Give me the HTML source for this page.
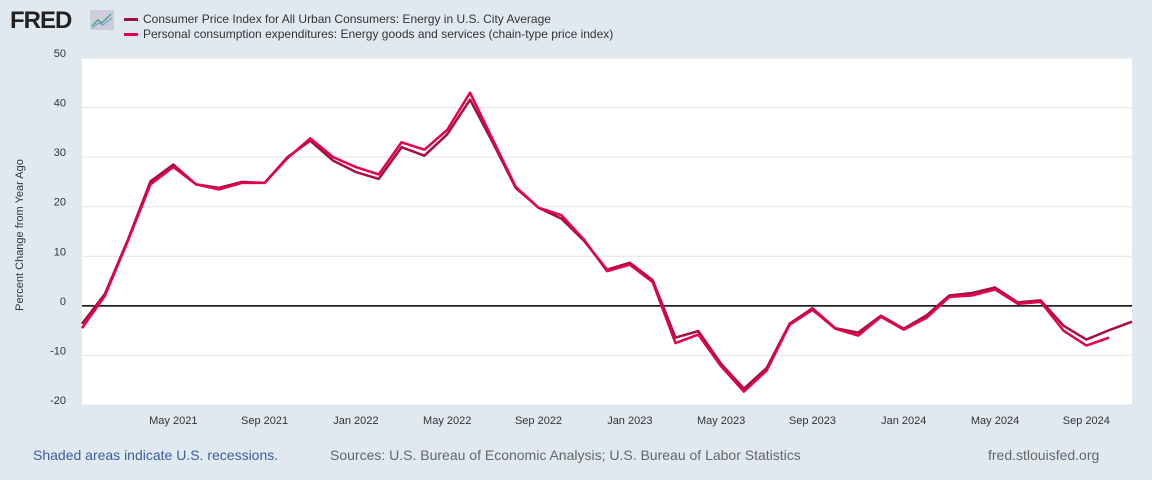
<!DOCTYPE html>
<html><head><meta charset="utf-8"><style>
body{margin:0;width:1152px;height:480px;background:#e1e9f0;font-family:"Liberation Sans",sans-serif;overflow:hidden;position:relative}
.t{position:absolute;white-space:nowrap}
</style></head><body>
<div class="t" style="left:10px;top:7px;font-size:24px;font-weight:bold;letter-spacing:-1px;color:#222">FRED</div>
<svg style="position:absolute;left:90px;top:10px" width="24" height="20"><rect width="24" height="20" fill="#ccd" /><polyline points="2,16 8,10 12,13 21,4" stroke="#4a7" fill="none" stroke-width="1.5"/><polyline points="2,18 9,13 13,15 22,8" stroke="#69c" fill="none" stroke-width="1"/></svg>
<div class="t" style="left:124px;top:12px;font-size:12px;color:#333"><span style="display:inline-block;width:14px;height:3px;background:#a50f3f;vertical-align:middle;margin-right:5px"></span>Consumer Price Index for All Urban Consumers: Energy in U.S. City Average</div>
<div class="t" style="left:124px;top:27px;font-size:12px;color:#333"><span style="display:inline-block;width:14px;height:3px;background:#e4004f;vertical-align:middle;margin-right:5px"></span>Personal consumption expenditures: Energy goods and services (chain-type price index)</div>
<div class="t" style="left:20px;top:235px;font-size:11px;color:#333;transform:translate(-50%,-50%) rotate(-90deg)">Percent Change from Year Ago</div>
<svg id="c" style="position:absolute;left:0;top:0" width="1152" height="480"></svg>
<div class="t" style="left:33px;top:447px;font-size:14px;color:#3a5fa0">Shaded areas indicate U.S. recessions.</div>
<div class="t" style="left:330px;top:447px;font-size:14px;color:#666">Sources: U.S. Bureau of Economic Analysis; U.S. Bureau of Labor Statistics</div>
<div class="t" style="left:988px;top:447px;font-size:14px;color:#666">fred.stlouisfed.org</div>
<script>
const yTicks=[50,40,30,20,10,0,-10,-20];
const xLabels=["May 2021","Sep 2021","Jan 2022","May 2022","Sep 2022","Jan 2023","May 2023","Sep 2023","Jan 2024","May 2024","Sep 2024"];
const xLabelIdx=[4,8,12,16,20,24,28,32,36,40,44];
const cpi=[-3.6,2.4,13.2,25.1,28.5,24.5,23.8,25.0,24.8,30.0,33.3,29.3,27.0,25.6,32.0,30.3,34.6,41.6,32.9,23.8,19.8,17.6,13.1,7.3,8.7,5.2,-6.4,-5.1,-11.7,-16.7,-12.5,-3.6,-0.5,-4.5,-5.4,-2.0,-4.6,-1.9,2.1,2.6,3.7,0.7,1.1,-4.0,-6.8,-4.9,-3.2];
const pce=[-4.5,2.0,13.0,24.5,28.0,24.5,23.5,24.8,24.8,29.8,33.8,30.0,28.0,26.5,33.0,31.5,35.5,43.0,33.5,24.0,19.8,18.3,13.3,7.0,8.3,4.8,-7.5,-5.8,-12.2,-17.3,-13.0,-3.8,-0.8,-4.6,-6.0,-2.2,-4.8,-2.4,1.8,2.1,3.3,0.4,0.8,-5.0,-8.0,-6.4];
const L=82,R=1132,T=58,B=405,N=47;
const x=i=>L+i*(R-L)/(N-1);
const y=v=>T+(50-v)*(B-T)/70;
const s=document.getElementById('c'),ns="http://www.w3.org/2000/svg";
function mk(t,a){const e=document.createElementNS(ns,t);for(const k in a)e.setAttribute(k,a[k]);s.appendChild(e);return e;}
const bg=mk('rect',{x:L,y:T,width:R-L,height:B-T,fill:'#fff'});


yTicks.forEach(v=>{
 const g=mk('line',{x1:L,x2:R,y1:y(v),y2:y(v),stroke:v===0?'#000':'#e4e4e4','stroke-width':v===0?1.5:1});
 
 
 const t=mk('text',{x:66,y:y(v)-1,'text-anchor':'end','font-size':11,fill:'#333'});t.textContent=v;
 
 
});
xLabels.forEach((l,k)=>{
 const t=mk('text',{x:x(xLabelIdx[k]),y:424,'text-anchor':'middle','font-size':11,fill:'#333'});t.textContent=l;
 
 
});
function line(d,c,n){const p=mk('polyline',{points:d.map((v,i)=>x(i)+','+y(v)).join(' '),fill:'none',stroke:c,'stroke-width':2.5,'stroke-linejoin':'round'});
 
 }
line(cpi,'#a50f3f','cpi-energy-line');
line(pce,'#e4004f','pce-energy-line');
</script>
</body></html>
